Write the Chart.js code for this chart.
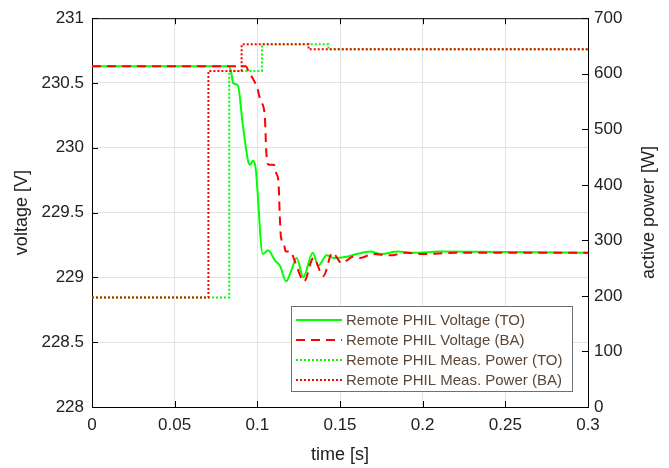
<!DOCTYPE html>
<html><head><meta charset="utf-8">
<script src="https://cdn.jsdelivr.net/npm/chart.js@4.4.1/dist/chart.umd.min.js"></script>
<style>html,body{margin:0;padding:0;background:#fff;}#wrap{width:669px;height:468px;}</style>
</head><body><div id="wrap"><canvas id="c" width="669" height="468"></canvas></div>
<script>
// time [s] and voltage [V] of Remote PHIL Voltage (TO)
const tVoltTO = [0, 0.0830, 0.0845, 0.0853, 0.0883, 0.0910, 0.0944, 0.0956, 0.0974, 0.0990, 0.1033, 0.1065, 0.1107, 0.1137, 0.1174, 0.1205, 0.1238, 0.1278, 0.1335, 0.1369, 0.1420, 0.1460, 0.1540, 0.1600, 0.1680, 0.1750, 0.1850, 0.1950, 0.2100, 0.3000];
const vVoltTO = [230.63, 230.63, 230.56, 230.50, 230.48, 230.20, 229.90, 229.87, 229.90, 229.84, 229.18, 229.21, 229.13, 229.09, 228.97, 229.05, 229.15, 229.00, 229.19, 229.09, 229.17, 229.15, 229.16, 229.18, 229.20, 229.18, 229.20, 229.19, 229.20, 229.19];
// Remote PHIL Voltage (BA)
const tVoltBA = [0, 0.0930, 0.0950, 0.0975, 0.1000, 0.1020, 0.1045, 0.1050, 0.1055, 0.1068, 0.1100, 0.1115, 0.1128, 0.1135, 0.1142, 0.1160, 0.1172, 0.1200, 0.1228, 0.1283, 0.1339, 0.1399, 0.1454, 0.1511, 0.1579, 0.1621, 0.1700, 0.1800, 0.1900, 0.2000, 0.2200, 0.3000];
const vVoltBA = [230.63, 230.63, 230.58, 230.53, 230.46, 230.36, 230.25, 230.10, 229.95, 229.87, 229.87, 229.80, 229.74, 229.50, 229.32, 229.26, 229.20, 229.20, 229.12, 228.97, 229.15, 229.01, 229.19, 229.11, 229.16, 229.15, 229.18, 229.17, 229.19, 229.18, 229.19, 229.19];
// Remote PHIL Meas. Power (TO) [W], step changes
const tPowTO = [0, 0.0830, 0.1028, 0.1430, 0.3000];
const pPowTO = [197, 605, 653, 644, 644];
// Remote PHIL Meas. Power (BA) [W], step changes
const tPowBA = [0, 0.0704, 0.0905, 0.1310, 0.3000];
const pPowBA = [197, 605, 653, 644, 644];

const seriesNames = ['Remote PHIL Voltage (TO)', 'Remote PHIL Voltage (BA)', 'Remote PHIL Meas. Power (TO)', 'Remote PHIL Meas. Power (BA)'];
const xTicks = [0, 0.05, 0.1, 0.15, 0.2, 0.25, 0.3];
const rightTitle = 'active power [W]';

const zip = (t, v) => t.map((x, i) => ({x: x, y: v[i]}));
const FONT = 'Liberation Sans, Arial, sans-serif';
const TICK = 17, TITLE = 18;

const msPlugin = {
  id: 'msPlugin',
  afterDraw(chart) {
    const ctx = chart.ctx, a = chart.chartArea;
    const sx = chart.scales.x, sy = chart.scales.y, sy2 = chart.scales.y2;
    ctx.save();
    ctx.strokeStyle = '#000'; ctx.lineWidth = 1;
    ctx.beginPath();
    ctx.moveTo(a.left, a.top + 0.5); ctx.lineTo(a.right, a.top + 0.5);
    const L = 6;
    sx.ticks.forEach((t, i) => {
      const p = Math.round(sx.getPixelForTick(i)) + 0.5;
      ctx.moveTo(p, a.bottom); ctx.lineTo(p, a.bottom - L);
      ctx.moveTo(p, a.top); ctx.lineTo(p, a.top + L);
    });
    sy.ticks.forEach((t, i) => {
      const p = Math.round(sy.getPixelForTick(i)) + 0.5;
      ctx.moveTo(a.left, p); ctx.lineTo(a.left + L, p);
    });
    sy2.ticks.forEach((t, i) => {
      const p = Math.round(sy2.getPixelForTick(i)) + 0.5;
      ctx.moveTo(a.right, p); ctx.lineTo(a.right - L, p);
    });
    ctx.stroke();
    // right axis title, reading bottom-to-top
    ctx.save();
    ctx.translate(649, (a.top + a.bottom) / 2);
    ctx.rotate(-Math.PI / 2);
    ctx.fillStyle = '#222';
    ctx.font = TITLE + 'px ' + FONT;
    ctx.textAlign = 'center'; ctx.textBaseline = 'middle';
    ctx.fillText(rightTitle, 0, 0);
    ctx.restore();
    // legend
    const bx = 291, by = 306, bw = 281, bh = 85;
    ctx.fillStyle = '#fff';
    ctx.fillRect(bx, by, bw, bh);
    ctx.strokeStyle = '#707070';
    ctx.strokeRect(bx + 0.5, by + 0.5, bw, bh);
    ctx.font = '15px ' + FONT;
    ctx.textBaseline = 'middle';
    chart.data.datasets.forEach((ds, i) => {
      const y = by + 14 + i * 20;
      ctx.strokeStyle = ds.borderColor;
      ctx.lineWidth = 2;
      ctx.setLineDash(ds.borderDash || []);
      ctx.beginPath(); ctx.moveTo(296, y); ctx.lineTo(342, y); ctx.stroke();
      ctx.setLineDash([]);
      ctx.fillStyle = '#5a4636';
      ctx.fillText(ds.label, 346, y + 1);
    });
    ctx.restore();
  }
};

new Chart(document.getElementById('c'), {
  type: 'line',
  data: {
    datasets: [
      {label: seriesNames[0], data: zip(tVoltTO, vVoltTO), yAxisID: 'y', borderColor: '#00ff00', borderWidth: 2, pointRadius: 0, cubicInterpolationMode: 'monotone', order: 4},
      {label: seriesNames[1], data: zip(tVoltBA, vVoltBA), yAxisID: 'y', borderColor: '#ff0000', borderWidth: 2, borderDash: [9, 6], pointRadius: 0, cubicInterpolationMode: 'monotone', order: 1},
      {label: seriesNames[2], data: zip(tPowTO, pPowTO), yAxisID: 'y2', borderColor: '#00ff00', borderWidth: 2, borderDash: [2, 2], pointRadius: 0, stepped: 'before', order: 3},
      {label: seriesNames[3], data: zip(tPowBA, pPowBA), yAxisID: 'y2', borderColor: '#ff0000', borderWidth: 2, borderDash: [2, 2], pointRadius: 0, stepped: 'before', order: 2}
    ]
  },
  options: {
    responsive: false, animation: false, devicePixelRatio: 1,
    layout: {padding: {top: 16, left: 0, right: 0, bottom: 0}},
    plugins: {legend: {display: false}, tooltip: {enabled: false}},
    scales: {
      x: {
        type: 'linear', min: 0, max: 0.3,
        afterFit(s) { s.height = 61; },
        afterBuildTicks(s) { s.ticks = xTicks.map(v => ({value: v})); },
        grid: {color: '#e3e3e3', drawTicks: false},
        border: {color: '#000', width: 1},
        ticks: {padding: 8, color: '#222', font: {family: FONT, size: TICK}, callback: v => String(v)},
        title: {display: true, text: 'time [s]', color: '#222', font: {family: FONT, size: TITLE}, padding: {top: 0, bottom: 2}}
      },
      y: {
        position: 'left', min: 228, max: 231,
        afterFit(s) { s.width = 92; },
        grid: {color: '#e3e3e3', drawTicks: false},
        border: {color: '#000', width: 1},
        ticks: {stepSize: 0.5, padding: 8, color: '#222', font: {family: FONT, size: TICK}, callback: v => String(+v.toFixed(2))},
        title: {display: true, text: 'voltage [V]', color: '#222', font: {family: FONT, size: TITLE}, padding: {top: 11, bottom: 0}}
      },
      y2: {
        position: 'right', min: 0, max: 700,
        afterFit(s) { s.width = 81; },
        grid: {display: false, drawTicks: false},
        border: {color: '#000', width: 1},
        ticks: {stepSize: 100, padding: 6, color: '#222', font: {family: FONT, size: TICK}},
        title: {display: false}
      }
    }
  },
  plugins: [msPlugin]
});
</script></body></html>
